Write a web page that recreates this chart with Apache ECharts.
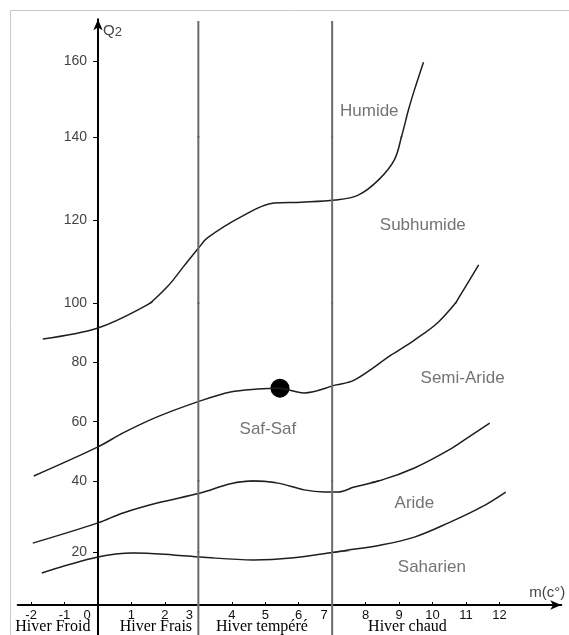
<!DOCTYPE html>
<html><head><meta charset="utf-8">
<script src="https://cdn.jsdelivr.net/npm/echarts@6/dist/echarts.min.js"></script>
<style>html,body{margin:0;padding:0;background:#fff}#c{width:569px;height:635px}</style>
</head><body><div id="c"></div>
<script>
// ---- data (m in °C, Q2) ----
const xTicks = [-2,-1,0,1,2,3,4,5,6,7,8,9,10,11,12];
const yTicks = [20,40,60,80,100,120,140,160];
const winterZones = ['Hiver Froid','Hiver Frais','Hiver tempéré','Hiver chaud'];
const winterZoneCenters = [-1.35,1.73,4.9,9.25];
const zoneLimits = [3,7];
const humideLimit = [[-1.65,87.9],[0,91.6],[1.35,98.6],[2.07,103.9],[2.55,108.7],[3.03,113.5],[3.27,115.7],[4.26,120.7],[5.26,124.1],[6.07,124.3],[7.09,124.8],[7.78,126.0],[8.38,129.6],[8.86,134.5],[9.07,140],[9.28,147.1],[9.46,152.4],[9.73,159.7]];
const subhumideLimit = [[-1.92,41.7],[0,51.5],[0.75,56.2],[1.77,61.6],[3.06,67.0],[3.96,70.0],[4.77,71.0],[5.38,71.3],[6.16,69.7],[7.12,72.4],[7.66,74.0],[8.77,82.5],[9.46,87.5],[10.18,93.6],[10.87,102.4],[11.38,109.2]];
const semiArideLimit = [[-1.95,22.5],[0,28.2],[0.75,31.0],[1.77,33.8],[3.06,36.6],[3.96,39.2],[4.65,40.0],[5.38,39.4],[6.16,37.5],[6.76,36.9],[7.18,36.9],[7.66,38.3],[8.47,40.3],[9.46,44.4],[10.48,50.4],[11.08,54.8],[11.71,59.5]];
const arideLimit = [[-1.68,12.1],[0,18.1],[1.05,19.6],[2.25,18.9],[3.06,18.1],[4.65,17.0],[5.77,17.7],[7.12,20.0],[8.47,22.0],[9.46,24.2],[10.48,28.2],[11.47,32.7],[12.19,36.9]];
const regionNames = ['Humide','Subhumide','Semi-Aride','Saf-Saf','Aride','Saharien'];
const regionM = [8.11,9.71,10.9,5.08,9.46,9.98];
const regionQ = [146.8,118.8,74.7,57.5,33.8,14.3];
const station = {name:'Saf-Saf', m:5.44, q:71.3};

// ---- layout (hand-drawn, piecewise Q2 scale) ----
const X0 = 98, PX = 33.45, XMIN = -2.4, XMAX = 13.85;
const gLeft = X0 + XMIN*PX, gWidth = (XMAX-XMIN)*PX;
const segs = [
  {min:-12, max:0,   top:605, height:31.8},
  {min:0,   max:20,  top:552, height:53},
  {min:20,  max:40,  top:481, height:71},
  {min:40,  max:100, top:303, height:178},
  {min:100, max:140, top:137, height:166},
  {min:140, max:171, top:19.2, height:117.8}
];
const segOf = q => segs.findIndex(s => q > s.min && q <= s.max);
const curves = [humideLimit, subhumideLimit, semiArideLimit, arideLimit];
const FONT = 'Liberation Sans';

const grid = segs.map(s => ({left:gLeft, width:gWidth, top:s.top, height:s.height, containLabel:false, outerBoundsMode:'none'}));
const xAxis = segs.map((s,i) => {
  const base = {type:'value', gridIndex:i, min:XMIN, max:XMAX, position:'bottom', splitLine:{show:false}};
  if (i !== 1) return Object.assign(base, {show:false});
  return Object.assign(base, {
    axisLine:{show:true, onZero:true, symbol:['none','arrow'], symbolSize:[7,11], lineStyle:{color:'#000', width:2}},
    axisTick:{show:true, inside:true, length:3, customValues:xTicks, lineStyle:{color:'#000', width:1}},
    axisLabel:{show:true, customValues:xTicks, margin:4, fontFamily:FONT, fontSize:13, color:'#111',
      formatter: v => { const r = Math.round(v); return (r===0||r===3||r===7) ? '{s'+r+'|'+r+'}' : '{n|'+r+'}'; },
      rich:{n:{fontFamily:FONT,fontSize:13,color:'#111'},
            s0:{fontFamily:FONT,fontSize:13,color:'#111',padding:[0,22,0,0]},
            s3:{fontFamily:FONT,fontSize:13,color:'#111',padding:[0,18,0,0]},
            s7:{fontFamily:FONT,fontSize:13,color:'#111',padding:[0,16,0,0]}}},
    name:'m(c°)', nameLocation:'end', nameGap:4,
    nameTextStyle:{align:'right', verticalAlign:'bottom', padding:[0,0,5,0], fontFamily:FONT, fontSize:15, color:'#444'}
  });
});
xAxis.push({type:'value', gridIndex:1, min:XMIN, max:XMAX, position:'bottom', splitLine:{show:false},
  axisLine:{show:false, onZero:false}, axisTick:{show:false},
  axisLabel:{show:true, customValues:winterZoneCenters, margin:14, fontFamily:'Liberation Serif', fontSize:16, color:'#000',
    formatter: v => { let best=0; winterZoneCenters.forEach((c,k)=>{ if (Math.abs(c-v) < Math.abs(winterZoneCenters[best]-v)) best=k; }); return winterZones[best]; }}
});
const yAxis = segs.map((s,i) => {
  const ticks = yTicks.filter(v => v > s.min && v <= s.max);
  const top = i === segs.length-1;
  return {type:'value', gridIndex:i, min:s.min, max:s.max, splitLine:{show:false}, position:'left', offset:-(X0-gLeft),
    axisLine:{show:true, onZero:false, symbol: top ? ['none','arrow'] : ['none','none'], symbolSize:[7,11], lineStyle:{color:'#000', width:2}},
    axisTick:{show: ticks.length>0, customValues:ticks, length:5, lineStyle:{color:'#000', width:1}},
    axisLabel:{show: ticks.length>0, customValues:ticks, margin:11, fontFamily:FONT, fontSize:14, color:'#444'},
    name: top ? '{a|Q}{b|2}' : '', nameLocation:'end', nameGap:-12,
    nameTextStyle:{align:'left', verticalAlign:'middle', padding:[0,0,0,5],
      rich:{a:{fontFamily:FONT,fontSize:15,color:'#444'}, b:{fontFamily:FONT,fontSize:13,color:'#444',padding:[3,0,0,0]}}}
  };
});

const series = [];
segs.forEach((s,i) => {
  curves.forEach(c => series.push({type:'line', xAxisIndex:i, yAxisIndex:i, data:c, smooth:0.35, showSymbol:false, clip:true,
    lineStyle:{color:'#1e1e1e', width:1.5}, silent:true}));
  zoneLimits.forEach(z => series.push({type:'line', xAxisIndex:i, yAxisIndex:i, data:[[z,-12],[z,170.5]], showSymbol:false, clip:true,
    lineStyle:{color:'#6a6a6a', width:2}, silent:true}));
  const labels = regionNames.map((n,k) => ({name:n, value:[regionM[k], regionQ[k]]})).filter((d,k) => segOf(regionQ[k]) === i);
  if (labels.length) series.push({type:'scatter', xAxisIndex:i, yAxisIndex:i, data:labels, symbolSize:0, silent:true,
    label:{show:true, position:'inside', formatter:p=>p.name, fontFamily:FONT, fontSize:17, color:'#505050'}});
  if (segOf(station.q) === i) series.push({type:'scatter', xAxisIndex:i, yAxisIndex:i, data:[{name:station.name, value:[station.m, station.q]}],
    symbol:'circle', symbolSize:19, itemStyle:{color:'#000', opacity:1}, silent:true});
});

const chart = echarts.init(document.getElementById('c'), null, {renderer:'canvas'});
chart.setOption({
  animation:false, backgroundColor:'#fff',
  graphic:[{type:'rect', silent:true, z:-10, shape:{x:10.5, y:10.5, width:700, height:700}, style:{fill:'none', stroke:'#c8c8c8', lineWidth:1}}],
  grid, xAxis, yAxis, series
});
</script></body></html>
